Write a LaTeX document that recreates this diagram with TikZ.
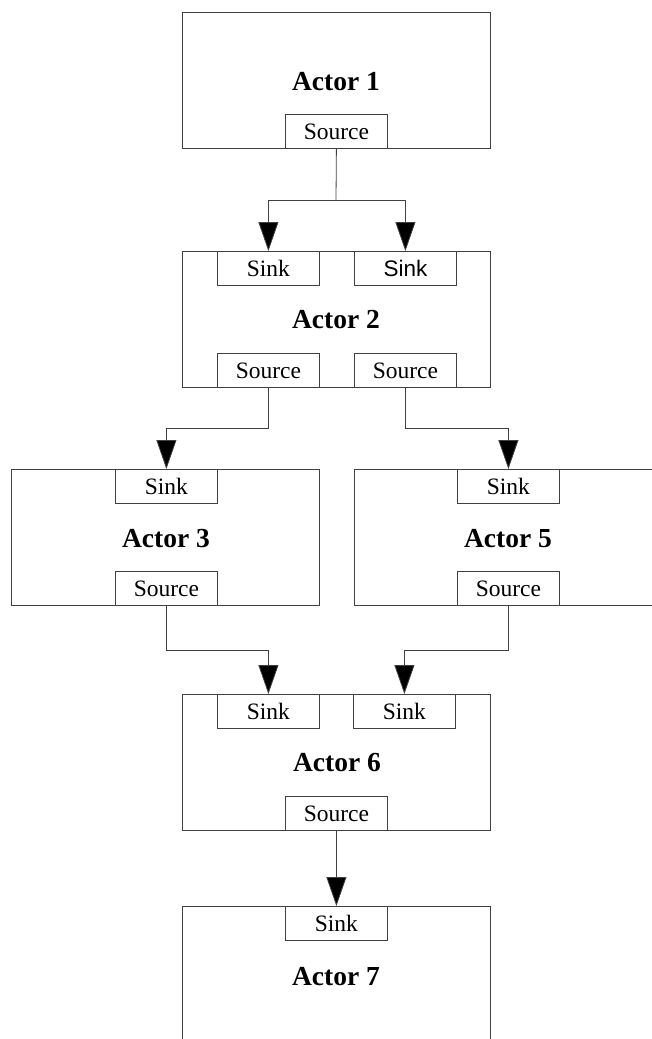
\documentclass[tikz,border=0pt]{standalone}
\usepackage{fontspec}
\setmainfont{Liberation Serif}
\newfontfamily\portsans{Liberation Sans}
\usetikzlibrary{arrows.meta}
\begin{document}
\begin{tikzpicture}[x=1pt,y=-1pt,
  actor/.style={draw=black!75, line width=0.8pt, minimum width=308pt,
    minimum height=136pt, inner sep=0pt, anchor=north west},
  port/.style={draw=black!75, line width=0.8pt, fill=white, minimum width=102pt,
    minimum height=34pt, inner sep=0pt, anchor=north west,
    font=\fontsize{23.5}{24}\selectfont},
  title/.style={font=\fontsize{27.5}{28}\selectfont\bfseries},
  link/.style={draw=black!75, line width=0.8pt},
  flow/.style={link, -{Triangle[length=29pt,width=20pt,fill=black]}}
]
\useasboundingbox (0,0) rectangle (652,1039);
\clip (0,0) rectangle (652,1039);

% actor frames
\node[actor] (a1) at (182,12) {};
\node[actor] (a2) at (182,251) {};
\node[actor] (a3) at (11,469) {};
\node[actor, minimum width=312pt] (a5) at (354,469) {};
\node[actor] (a6) at (182,694) {};
\node[actor, minimum height=150pt] (a7) at (182,906) {};

% actor names
\node[title] (t1) at (336,82) {Actor 1};
\node[title] (t2) at (336,320) {Actor 2};
\node[title] (t3) at (166,539) {Actor 3};
\node[title] (t5) at (508,539) {Actor 5};
\node[title] (t6) at (337,763) {Actor 6};
\node[title] (t7) at (336,977) {Actor 7};

% ports
\node[port] (a1s)  at (285,114) {Source};
\node[port] (a2k1) at (217,251) {Sink};
\node[port, font=\portsans\fontsize{22.5}{24}\selectfont] (a2k2) at (354,251) {Sink};
\node[port] (a2s1) at (217,353) {Source};
\node[port] (a2s2) at (354,353) {Source};
\node[port] (a3k)  at (115,469) {Sink};
\node[port] (a3s)  at (115,571) {Source};
\node[port] (a5k)  at (457,469) {Sink};
\node[port] (a5s)  at (457,571) {Source};
\node[port] (a6k1) at (217,694) {Sink};
\node[port] (a6k2) at (353,694) {Sink};
\node[port] (a6s)  at (285,796) {Source};
\node[port] (a7k)  at (285,906) {Sink};

% connections
\coordinate (j1) at (336,200);
\draw[link] (a1s.south) -- (j1);
\draw[flow] (j1) -| (a2k1.north);
\draw[flow] (j1) -| (a2k2.north);
\draw[flow] (a2s1.south) -- ++(0,41) -| (a3k.north);
\draw[flow] (a2s2.south) -- ++(0,41) -| (a5k.north);
\draw[flow] (a3s.south) -- ++(0,45) -| (a6k1.north);
\draw[flow] (a5s.south) -- ++(0,45) -| (a6k2.north);
\draw[flow] (a6s.south) -- (a7k.north);
\end{tikzpicture}
\end{document}
